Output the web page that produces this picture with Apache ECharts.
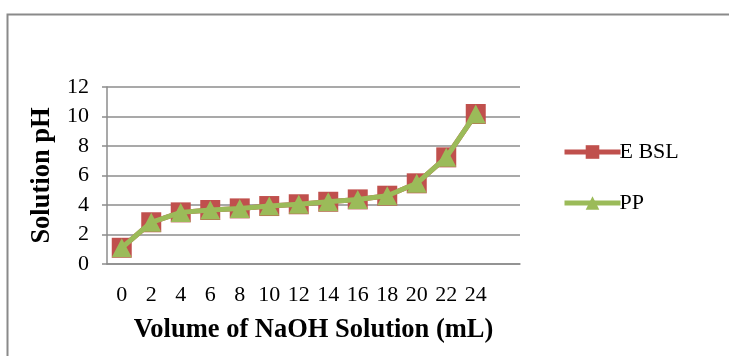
<!DOCTYPE html>
<html>
<head>
<meta charset="utf-8">
<script src="https://cdn.jsdelivr.net/npm/echarts@6/dist/echarts.min.js"></script>
<style>
  html, body { margin: 0; padding: 0; background: #fff; }
  #chart { width: 729px; height: 356px; }
</style>
</head>
<body>
<div id="chart"></div>
<script>
// NaOH volume added (mL); trailing blank slot leaves room at the right of the plot
const volumes = ['0', '2', '4', '6', '8', '10', '12', '14', '16', '18', '20', '22', '24', ''];
// Titration curves (solution pH)
const ebslPH = [1.1, 2.83, 3.5, 3.66, 3.77, 3.93, 4.05, 4.22, 4.38, 4.63, 5.47, 7.23, 10.17, null];
const ppPH   = [1.1, 2.83, 3.5, 3.66, 3.77, 3.93, 4.05, 4.22, 4.38, 4.63, 5.47, 7.23, 10.17, null];
const yTicks = { min: 0, max: 12, interval: 2 };

const serif = 'Liberation Serif, Times New Roman, serif';
const gridGray = '#8c8c8c';

const chart = echarts.init(document.getElementById('chart'), null, { renderer: 'canvas' });
chart.setOption({
  animation: false,
  backgroundColor: '#fff',
  textStyle: { fontFamily: serif, color: '#000' },
  graphic: [{
    type: 'rect',
    shape: { x: 7.5, y: 14.5, width: 800, height: 400 },
    style: { fill: 'none', stroke: '#8a8a8a', lineWidth: 2 },
    silent: true
  }],
  grid: { left: 107, top: 87, right: 209, bottom: 92, containLabel: false },
  legend: {
    orient: 'vertical',
    left: 557,
    top: 136,
    itemWidth: 56,
    itemHeight: 17,
    itemGap: 29,
    lineStyle: { width: 5 },
    textStyle: { fontFamily: serif, fontSize: 22, color: '#000', padding: [0, 0, 0, -6] },
    data: ['E BSL', 'PP']
  },
  xAxis: {
    type: 'category',
    data: volumes,
    boundaryGap: true,
    name: 'Volume of NaOH Solution (mL)',
    nameLocation: 'middle',
    nameGap: 53,
    nameTextStyle: { fontFamily: serif, fontSize: 26.5, fontWeight: 'bold', color: '#000' },
    axisLine: { lineStyle: { color: gridGray, width: 1.5 } },
    axisTick: { show: false },
    axisLabel: { fontFamily: serif, fontSize: 22, color: '#000', margin: 20, interval: 0 },
    splitLine: { show: false }
  },
  yAxis: {
    type: 'value',
    min: yTicks.min,
    max: yTicks.max,
    interval: yTicks.interval,
    name: 'Solution pH',
    nameLocation: 'middle',
    nameRotate: 90,
    nameGap: 49,
    nameTextStyle: { fontFamily: serif, fontSize: 26.5, fontWeight: 'bold', color: '#000' },
    axisLine: { show: true, lineStyle: { color: gridGray, width: 1.5 } },
    axisTick: { show: true, length: 5, lineStyle: { color: gridGray, width: 1.5 } },
    axisLabel: { fontFamily: serif, fontSize: 22, color: '#000', margin: 18 },
    splitLine: { show: true, lineStyle: { color: gridGray, width: 1.5 } }
  },
  series: [
    {
      name: 'E BSL',
      type: 'line',
      data: ebslPH,
      symbol: 'rect',
      symbolSize: 20,
      itemStyle: { color: '#C0504D' },
      lineStyle: { color: '#C0504D', width: 5 },
      z: 2
    },
    {
      name: 'PP',
      type: 'line',
      data: ppPH,
      symbol: 'triangle',
      symbolSize: [20, 19],
      itemStyle: { color: '#9BBB59' },
      lineStyle: { color: '#9BBB59', width: 5 },
      z: 3
    }
  ]
});
</script>
</body>
</html>
